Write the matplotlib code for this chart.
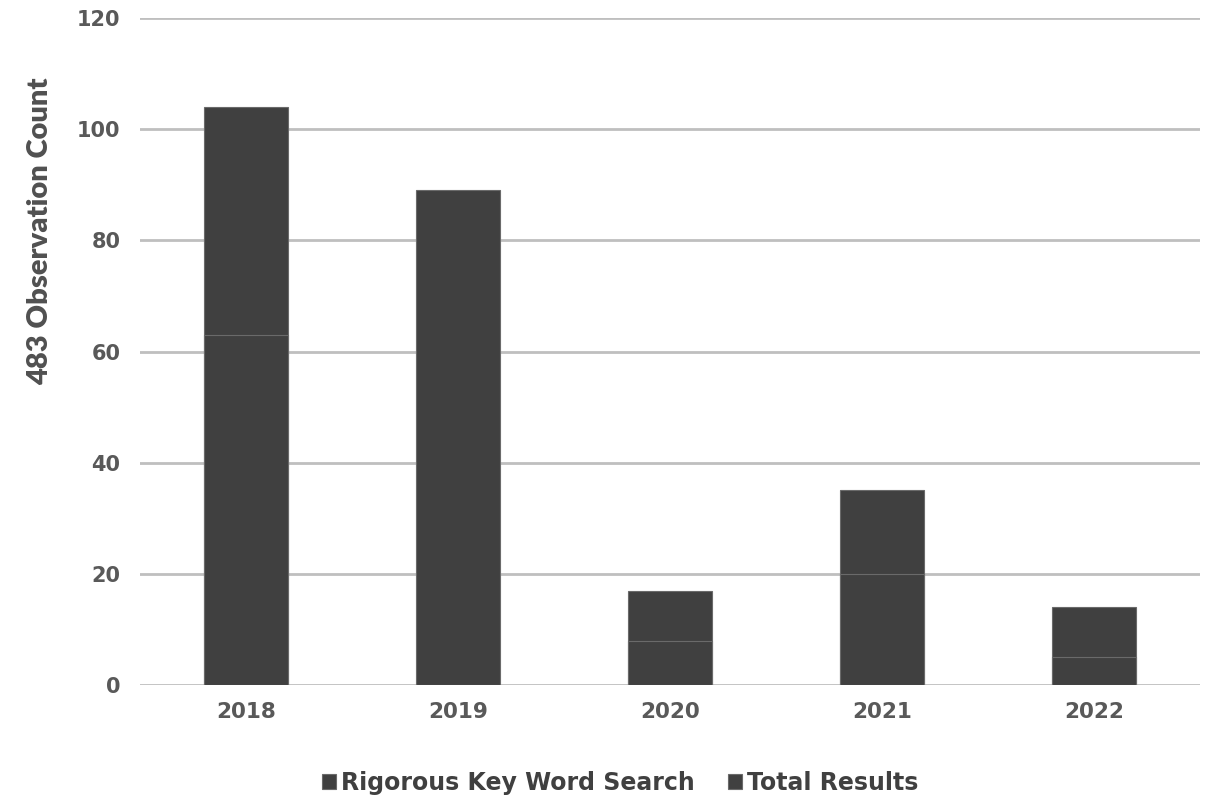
import matplotlib
matplotlib.use("Agg")
import matplotlib.pyplot as plt
import numpy as np

years = ["2018", "2019", "2020", "2021", "2022"]
total_results = [104, 89, 17, 35, 14]
rigorous_search = [63, 0, 8, 20, 5]

BAR, EDGE, GRID, TXT = "#404040", "#6a6a6a", "#bfbfbf", "#595959"

fig = plt.figure(figsize=(12.11, 7.99), dpi=100)
ax = fig.add_axes([140 / 1211, 1 - 685 / 799, 1060 / 1211, 667 / 799])

x = np.arange(len(years))
ax.bar(x, total_results, width=0.4, color=BAR, edgecolor=EDGE, lw=0.8,
       label="Total Results", zorder=3)
ax.bar(x, rigorous_search, width=0.4, color=BAR, edgecolor=EDGE, lw=0.8,
       label="Rigorous Key Word Search", zorder=4)

ax.set_xlim(-0.5, len(years) - 0.5)
ax.set_ylim(0, 120)
ax.set_yticks(range(0, 121, 20))
ax.yaxis.grid(True, color=GRID, lw=2)
ax.set_axisbelow(True)
for s in ax.spines.values():
    s.set_visible(False)
ax.tick_params(length=0, labelcolor=TXT)
ax.tick_params(axis="y", pad=14, labelsize=15)
ax.tick_params(axis="x", pad=12, labelsize=15.5)
ax.set_xticks(x)
ax.set_xticklabels(years)
for t in ax.get_xticklabels() + ax.get_yticklabels():
    t.set_fontweight("bold"); t.set_family("DejaVu Sans")

ax.set_ylabel("483 Observation Count", fontsize=21, color="#505050",
              family="Lato", fontweight="heavy")
ax.yaxis.set_label_coords(-0.082, 0.68)

h, l = ax.get_legend_handles_labels()
leg = fig.legend(h[::-1], l[::-1], loc="center", bbox_to_anchor=(620 / 1211, 1 - 783 / 799),
                 ncol=2, frameon=False, handlelength=0.6, handleheight=0.6,
                 handletextpad=0.2, columnspacing=1.4,
                 prop={"family": "DejaVu Sans", "weight": "bold", "size": 17})
for t in leg.get_texts():
    t.set_color("#404040")

fig.savefig("out.png", dpi=100)
